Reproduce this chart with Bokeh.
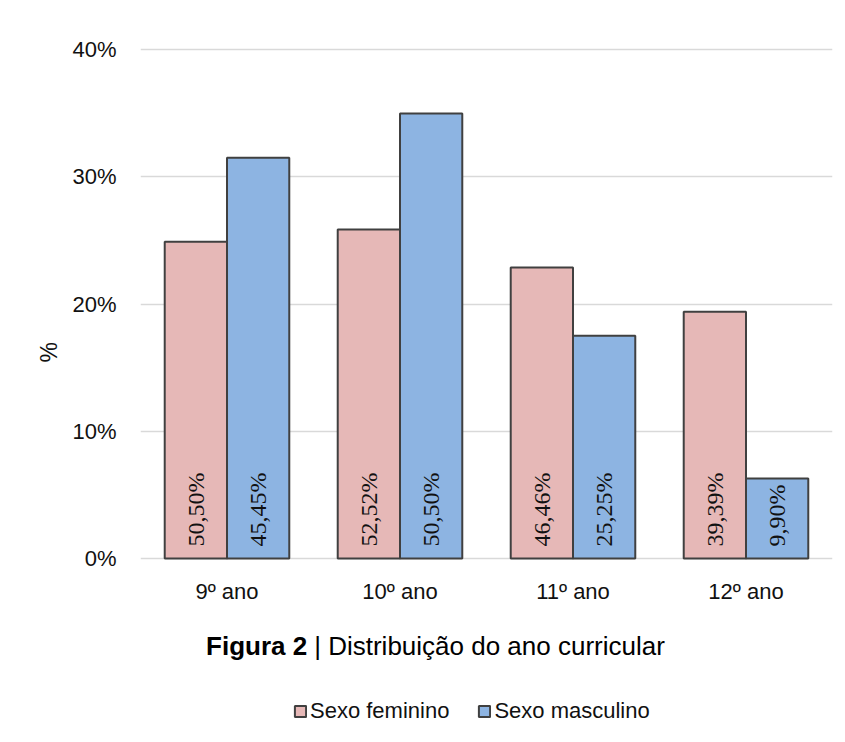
import math
from bokeh.plotting import figure
from bokeh.models import (FactorRange, Range1d, Label, Legend, LegendItem,
                          ColumnDataSource, FixedTicker, Title)
from bokeh.transform import dodge
from bokeh.embed import file_html
from bokeh.resources import INLINE

# ---- data ----
anos = ["9º ano", "10º ano", "11º ano", "12º ano"]
fem_altura = [24.9, 25.85, 22.87, 19.4]
masc_altura = [31.5, 34.97, 17.5, 6.29]
fem_rotulo = ["50,50%", "52,52%", "46,46%", "39,39%"]
masc_rotulo = ["45,45%", "50,50%", "25,25%", "9,90%"]
y_ticks = [0, 10, 20, 30, 40]
y_tick_labels = ["0%", "10%", "20%", "30%", "40%"]
series_names = ["Sexo feminino", "Sexo masculino"]
titulo_bold = "Figura 2"
titulo_resto = "| Distribuição do ano curricular"
eixo_y_titulo = "%"

FONT = "Liberation Sans"
FEM = "#E6B8B7"
MASC = "#8DB4E2"
EDGE = "#404040"
TXT = "#111111"

src = ColumnDataSource(dict(ano=anos, fem=fem_altura, masc=masc_altura,
                            fem_lbl=fem_rotulo, masc_lbl=masc_rotulo,
                            base=[0] * len(anos)))

p = figure(width=845, height=742, x_range=FactorRange(factors=anos, range_padding=0),
           y_range=Range1d(-14.46, 40.4), output_backend="svg", toolbar_location=None,
           x_axis_location="below",
           min_border_left=140, min_border_right=13, min_border_top=44,
           min_border_bottom=0)
p.outline_line_color = None
p.background_fill_color = "white"
p.border_fill_color = "white"

W = 0.36
OFF = 0.18
r_f = p.vbar(x=dodge("ano", -OFF, range=p.x_range), top="fem", width=W, source=src,
             fill_color=FEM, line_color=EDGE, line_width=2)
r_m = p.vbar(x=dodge("ano", OFF, range=p.x_range), top="masc", width=W, source=src,
             fill_color=MASC, line_color=EDGE, line_width=2)

for off, col in ((-OFF, "fem_lbl"), (OFF, "masc_lbl")):
    p.text(x=dodge("ano", off, range=p.x_range), y="base", text=col, source=src,
           angle=math.pi / 2, text_align="left", text_baseline="middle",
           y_offset=-12, text_font=FONT, text_font_size="24px", text_color=TXT)

# axes
p.xgrid.grid_line_color = None
p.ygrid.grid_line_color = "#D9D9D9"
p.ygrid.grid_line_width = 1.5
p.yaxis.ticker = FixedTicker(ticks=y_ticks)
p.yaxis.major_label_overrides = dict(zip(y_ticks, y_tick_labels))
for ax in (p.xaxis, p.yaxis):
    ax.axis_line_color = None
    ax.major_tick_line_color = None
    ax.minor_tick_line_color = None
    ax.major_label_text_font = FONT
    ax.major_label_text_font_size = "22px"
    ax.major_label_text_color = TXT
p.yaxis.major_label_standoff = 18
p.xaxis.major_label_standoff = 14
p.xaxis.fixed_location = 0

# y axis title "%"
p.add_layout(Title(text=eixo_y_titulo, align="left", offset=380, standoff=16,
                   text_font=FONT, text_font_size="23px", text_font_style="normal",
                   text_color=TXT), "left")

# figure caption
split_x = 0.9636
cap_y = -6.84
p.add_layout(Label(x=split_x, y=cap_y, text=titulo_bold, text_align="right",
                   text_baseline="middle", text_font=FONT, text_font_size="26px",
                   text_font_style="bold", text_color="#000000"))
p.add_layout(Label(x=split_x, y=cap_y, x_offset=7, text=titulo_resto, text_align="left",
                   text_baseline="middle", text_font=FONT, text_font_size="26px",
                   text_color="#000000"))

# legend
legend = Legend(items=[LegendItem(label=series_names[0], renderers=[r_f]),
                       LegendItem(label=series_names[1], renderers=[r_m])],
                orientation="horizontal", location=(153, 18),
                padding=0, margin=0, spacing=28, label_standoff=3,
                glyph_width=14, glyph_height=14, label_height=22,
                label_text_font=FONT, label_text_font_size="22px",
                label_text_color=TXT,
                border_line_color=None, background_fill_alpha=0)
p.add_layout(legend, "center")

open("out.html", "w").write(file_html(p, INLINE))
